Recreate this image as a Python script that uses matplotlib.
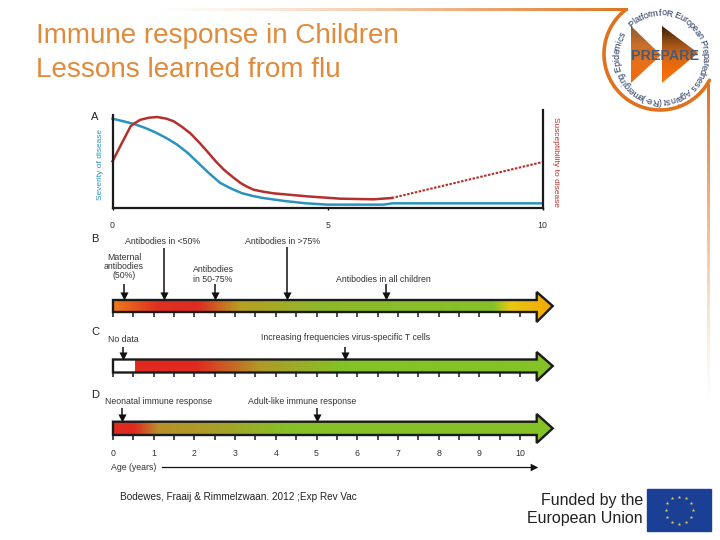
import numpy as np
import matplotlib
matplotlib.use("Agg")
import matplotlib.pyplot as plt
from matplotlib.colors import LinearSegmentedColormap, to_rgb
from matplotlib.patches import Polygon, Rectangle

plt.rcParams["font.family"] = ["Liberation Sans", "DejaVu Sans"]

title_lines = ["Immune response in Children", "Lessons learned from flu"]
citation = "Bodewes, Fraaij & Rimmelzwaan. 2012 ;Exp Rev Vac"
funding_lines = ["Funded by the", "European Union"]
logo_ring = "Platform foR European Preparedness Against (Re-)emerging Epidemics"

# panel A
severity_age = [0, 0.25, 0.5, 0.75, 1.0, 1.25, 1.5, 1.75, 2.0, 2.25, 2.5, 2.75, 3, 3.25, 3.5, 4, 4.5, 5, 6, 6.3, 6.5, 10]
severity_val = [0.957, 0.93, 0.90, 0.86, 0.81, 0.75, 0.68, 0.59, 0.48, 0.37, 0.27, 0.21, 0.16, 0.13, 0.107, 0.075, 0.05, 0.036, 0.036, 0.036, 0.05, 0.05]
suscept_age = [0, 0.2, 0.42, 0.5, 0.65, 0.85, 1.04, 1.25, 1.42, 1.6, 1.81, 2.0, 2.2, 2.4, 2.59, 2.8, 2.97, 3.12, 3.28, 3.5, 3.75, 4.52, 5.29, 6.07, 6.49]
suscept_val = [0.5, 0.68, 0.875, 0.905, 0.946, 0.968, 0.975, 0.958, 0.93, 0.875, 0.80, 0.71, 0.607, 0.50, 0.41, 0.33, 0.27, 0.23, 0.196, 0.175, 0.157, 0.125, 0.10, 0.093, 0.107]
suscept_dash_age = [6.49, 10]
suscept_dash_val = [0.107, 0.493]
panel_a_ticks = [0, 5, 10]

# timeline bars: gradient stops (age, colour)
bar_b_stops = [(0, "#ee7a1a"), (1.07, "#e03020"), (2.05, "#e02a20"), (3.12, "#b8a020"),
               (5.17, "#8cb82a"), (9.34, "#84c226"), (9.75, "#e8c810"), (10.78, "#f5a800")]
bar_c_stops = [(0, "#ffffff"), (0.51, "#ffffff"), (0.52, "#e02a20"), (2.05, "#e02a20"),
               (3.6, "#b09a28"), (5.6, "#84c226"), (10.78, "#84c226")]
bar_d_stops = [(0, "#e02a20"), (0.5, "#e02a20"), (1.1, "#b8902a"), (2.6, "#a8a028"),
               (4.3, "#84c226"), (10.78, "#84c226")]

# arrows: age, top y of the shaft
arrows_b_age = [0.27, 1.25, 2.5, 4.27, 6.7]
arrows_b_top = [284, 248, 284, 247, 284]
arrows_c_age = [0.25, 5.7]
arrows_d_age = [0.22, 5.0]
year_ticks = list(range(0, 11))

PX0, PX_YEAR = 113.0, 40.7


def age(px):
    return (px - PX0) / PX_YEAR


fig = plt.figure(figsize=(7.2, 5.4), dpi=100)
deco = fig.add_axes([0, 0, 1, 1])
deco.axis("off")
tl = fig.add_axes([0, 0, 1, 1])
tl.axis("off")
tl.patch.set_alpha(0)

orange = "#e2711d"


def fade_line(x0, x1, y0, y1, vertical):
    rgb = to_rgb(orange)
    ramp = np.linspace(0, 1, 200) ** 1.3
    img = np.zeros((200, 1, 4)) if vertical else np.zeros((1, 200, 4))
    img[..., :3] = rgb
    img[..., 3] = (ramp[::-1].reshape(200, 1) if vertical else ramp.reshape(1, 200))
    deco.imshow(img, extent=(x0, x1, y1, y0), aspect="auto", zorder=1)


fade_line(150, 628, 8, 11, False)
fade_line(706.5, 709.5, 84, 405, True)

# ring round the logo
th = np.radians(np.linspace(128, 332, 400))
deco.plot(660 + 56 * np.cos(th), 54 - 56 * np.sin(th), color=orange, lw=2.6, zorder=2, solid_capstyle="round")

# logo triangles
logo_cmap = LinearSegmentedColormap.from_list("logo", ["#3a1a08", "#8a4a14", "#d0681a", "#f06a08", "#f47a10"])
light_cmap = LinearSegmentedColormap.from_list("logo1", ["#8a5a2a", "#c8702a", "#e8701a", "#f06a08"])
for pts, cm in (([(631, 26), (661, 55), (631, 83)], light_cmap), ([(662, 26), (698, 53), (662, 83)], logo_cmap)):
    grad = np.linspace(0, 1, 100).reshape(100, 1)
    im = deco.imshow(grad, cmap=cm, extent=(pts[0][0], pts[1][0], 83, 26), aspect="auto", zorder=3)
    im.set_clip_path(Polygon(pts, transform=deco.transData))
deco.text(664.5, 55.5, "PREPARE", fontsize=10.3, fontweight="bold", color="#4a5a72", ha="center", va="center", zorder=4)

# ring text, upright towards the outside, running clockwise
weights = [0.55 if c in "ilfrt()-' " else (1.3 if c in "mPEAR" else 1.0) for c in logo_ring]
edges = np.cumsum([0] + weights)
mid = (edges[:-1] + edges[1:]) / 2 / edges[-1]
for c, f in zip(logo_ring, mid):
    ang = -46 + 349 * f
    ra = np.radians(ang)
    deco.text(661 + 44 * np.sin(ra), 57 - 44 * np.cos(ra), c, rotation=-ang, rotation_mode="anchor",
              ha="center", va="center", fontsize=6.5, color="#22365c", zorder=4)

# titles and footer
for line, y in zip(title_lines, [36, 70]):
    deco.text(35.5, y, line, fontsize=20.1, color="#e08a3c", ha="left", va="center")
deco.text(238, 497, citation, fontsize=7.2, color="#222222", ha="center", va="center")
for line, y in zip(funding_lines, [500, 519]):
    deco.text(643, y, line, fontsize=11.5, color="#222222", ha="right", va="center")
deco.add_patch(Rectangle((647, 489), 64, 42, color="#1b3f94", zorder=2))
star_a = np.radians(np.arange(0, 360, 30))
deco.scatter(679 + 13.5 * np.cos(star_a), 510 + 13.5 * np.sin(star_a), marker="*", s=7, color="#e8d24a", linewidths=0, zorder=3)

# panel letters
for letter, y in zip("ABCD", [117, 239, 332, 395]):
    deco.text(95, y, letter, fontsize=8, color="#222222", ha="center", va="center")

deco.set_xlim(0, 720)
deco.set_ylim(540, 0)

# panel A
left, right = 112.5, 542.7
base, top = 208.0, 110.0
a = fig.add_axes([left / 720, 1 - base / 540, (right - left) / 720, (base - top) / 540])
a.patch.set_alpha(0)
a.plot(severity_age, severity_val, color="#2a93bd", lw=1.8, clip_on=False)
a.plot(suscept_age, suscept_val, color="#b5302c", lw=1.8, clip_on=False)
a.plot(suscept_dash_age, suscept_dash_val, color="#b5302c", lw=1.5, ls=(0, (1.2, 0.7)))
a.set_xlim(0, 10)
a.set_ylim(0, (base - top) / 93.3)
a.set_yticks([])
a.set_xticks(panel_a_ticks)
a.tick_params(axis="x", length=1.5, width=1, pad=8, labelsize=6.3, labelcolor="#333333")
a.spines["top"].set_visible(False)
for s in ("left", "right", "bottom"):
    a.spines[s].set_linewidth(1.6)
    a.spines[s].set_color("#1a1a1a")
a.spines["left"].set_bounds(0, 1.0)
deco.text(100.5, 164, "Severity of disease", rotation=90, fontsize=6, color="#2a93bd", ha="center", va="center")
deco.text(555, 162, "Susceptibility to disease", rotation=270, fontsize=6, color="#b5302c", ha="center", va="center")


# timeline bars
def draw_bar(y0, y1, head0, head1, stops):
    head_x, tip = age(536.7), age(552.7)
    mid_y = (y0 + y1) / 2
    pts = [(0, y0), (head_x, y0), (head_x, head0), (tip, mid_y), (head_x, head1), (head_x, y1), (0, y1)]
    pos = [(s[0] - stops[0][0]) / (stops[-1][0] - stops[0][0]) for s in stops]
    cmap = LinearSegmentedColormap.from_list("bar", list(zip(pos, [s[1] for s in stops])), N=512)
    im = tl.imshow(np.linspace(0, 1, 600).reshape(1, 600), cmap=cmap, extent=(0, tip, y1 + 15, y0 - 15),
                   aspect="auto", zorder=2)
    im.set_clip_path(Polygon(pts, transform=tl.transData))
    tl.add_patch(Polygon(pts, closed=True, fill=False, ec="#1a1a1a", lw=1.7, joinstyle="miter", zorder=3))
    tl.vlines(np.arange(0, 10.5, 0.5), y1, y1 + 4.5, color="#1a1a1a", lw=1.1, zorder=2)


def draw_arrows(ages, tops, tip):
    tl.vlines(ages, tops, tip - 3, color="#111111", lw=1.1, zorder=4)
    tl.scatter(ages, [tip - 2.5] * len(ages), marker="v", s=34, color="#111111", linewidths=0, zorder=4)


draw_bar(300, 312, 292, 322, bar_b_stops)
draw_bar(359.5, 372.5, 352, 381, bar_c_stops)
draw_bar(421.7, 435, 414, 443, bar_d_stops)
draw_arrows(arrows_b_age, arrows_b_top, 298)
draw_arrows(arrows_c_age, [347] * len(arrows_c_age), 358)
draw_arrows(arrows_d_age, [408] * len(arrows_d_age), 420)

labels = [
    ("Antibodies in <50%", 162.7, 241), ("Antibodies in >75%", 282.7, 241),
    ("Maternal", 124, 257), ("antibodies", 124, 266.5), ("(50%)", 124, 276),
    ("Antibodies", 213, 269.5), ("in 50-75%", 213, 279),
    ("Antibodies in all children", 383, 280),
    ("No data", 123, 339), ("Increasing frequencies virus-specific T cells", 346, 337),
    ("Neonatal immune response", 159, 401), ("Adult-like immune response", 302, 401),
    ("Age (years)", 134, 467),
]
for txt, x, y in labels:
    tl.text(age(x), y, txt, fontsize=6.3, color="#333333", ha="center", va="center", zorder=5)
for yr in year_ticks:
    tl.text(yr, 454, str(yr), fontsize=6.3, color="#333333", ha="center", va="center", zorder=5)

tl.plot([age(162), age(533)], [467, 467], color="#111111", lw=0.9, zorder=4)
tl.scatter([age(534)], [467], marker=">", s=30, color="#111111", linewidths=0, zorder=4)

tl.set_xlim(age(0), age(720))
tl.set_ylim(540, 0)

fig.savefig("out.png", dpi=100)
